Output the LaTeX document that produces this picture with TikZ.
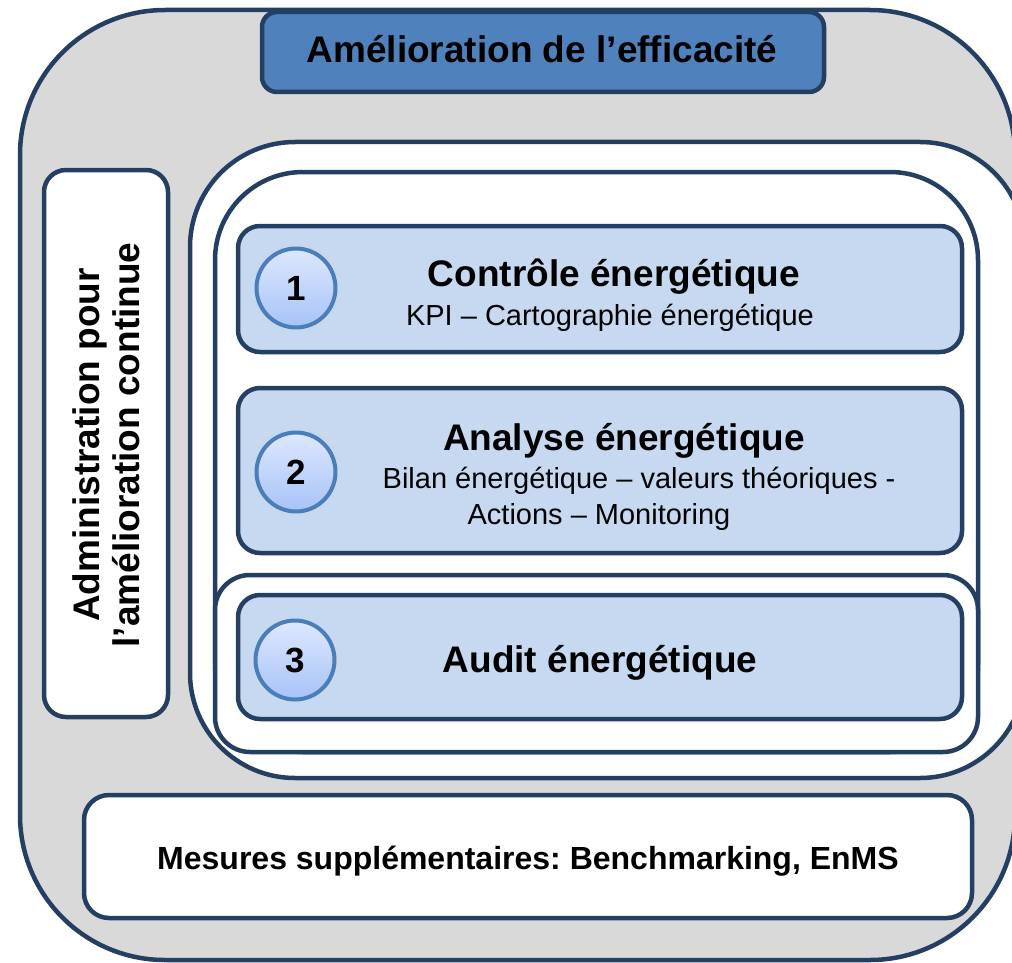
\documentclass[tikz,border=0pt]{standalone}
\usepackage{fontspec}
\setmainfont{Liberation Sans}
\frenchspacing
\definecolor{navy}{HTML}{243F62}
\definecolor{titleblue}{HTML}{4F81BD}
\definecolor{lightblue}{HTML}{C6D9F1}
\definecolor{panelgray}{HTML}{D9D9D9}
\definecolor{circblue}{HTML}{4A7EBB}
\definecolor{circtop}{HTML}{DEE8FF}
\definecolor{circbot}{HTML}{A6C3F7}
\begin{document}
\begin{tikzpicture}[x=1pt,y=-1pt,
  frame/.style={draw=navy,line width=4.5pt},
  boldbig/.style={font=\fontsize{37}{41}\selectfont\bfseries,anchor=base,inner sep=0pt},
  boldmid/.style={font=\fontsize{32}{38}\selectfont\bfseries,anchor=base,inner sep=0pt},
  regtxt/.style={font=\fontsize{29}{34}\selectfont,anchor=base,inner sep=0pt},
  numc/.style={circle,draw=circblue,line width=4pt,top color=circtop,bottom color=circbot,
    minimum size=79pt,inner sep=0pt,font=\fontsize{35}{40}\selectfont\bfseries}
]
\useasboundingbox (0,0) rectangle (1012,963);
\clip (0,0) rectangle (1012,963);
% outer gray panel
\draw[frame,fill=panelgray,rounded corners=145pt] (20,10) rectangle (1015,960);
% title box
\draw[frame,fill=titleblue,rounded corners=15pt] (262,12) rectangle (824,92);
% left box
\draw[frame,fill=white,rounded corners=22pt] (44,170) rectangle (168,717);
% nested frames
\draw[frame,fill=white,rounded corners=105pt] (190,142) rectangle (1025,778);
\draw[frame,fill=white,rounded corners=88pt] (215,172) rectangle (978,752);
\draw[frame,fill=white,rounded corners=35pt] (215,575) rectangle (978,752);
% blue boxes
\draw[frame,fill=lightblue,rounded corners=22pt] (238,226) rectangle (962,352);
\draw[frame,fill=lightblue,rounded corners=22pt] (238,388) rectangle (962,553);
\draw[frame,fill=lightblue,rounded corners=22pt] (238,595) rectangle (962,719);
% bottom box
\draw[frame,fill=white,rounded corners=25pt] (84,795) rectangle (972,918);
% circles
\node[numc] (n1) at (296,288) {1};
\node[numc] (n2) at (296,472) {2};
\node[numc] (n3) at (295,660) {3};
% texts
\node[boldbig] (title) at (542,63) {Amélioration de l’efficacité};
\node[rotate=90,align=center,font=\fontsize{37}{40}\selectfont\bfseries,inner sep=0pt] (adm) at (106,445) {Administration pour\\l’amélioration continue};
\node[boldbig] (t1) at (614,286) {Contrôle énergétique};
\node[regtxt] (s1) at (610,325) {KPI – Cartographie énergétique};
\node[boldbig] (t2) at (624,450) {Analyse énergétique};
\node[regtxt] (s2a) at (639,488) {Bilan énergétique – valeurs théoriques -};
\node[regtxt] (s2b) at (599,524) {Actions – Monitoring};
\node[boldbig] (t3) at (600,672) {Audit énergétique};
\node[boldmid] (mes) at (528,869) {Mesures supplémentaires: Benchmarking, EnMS};
\end{tikzpicture}
\end{document}
